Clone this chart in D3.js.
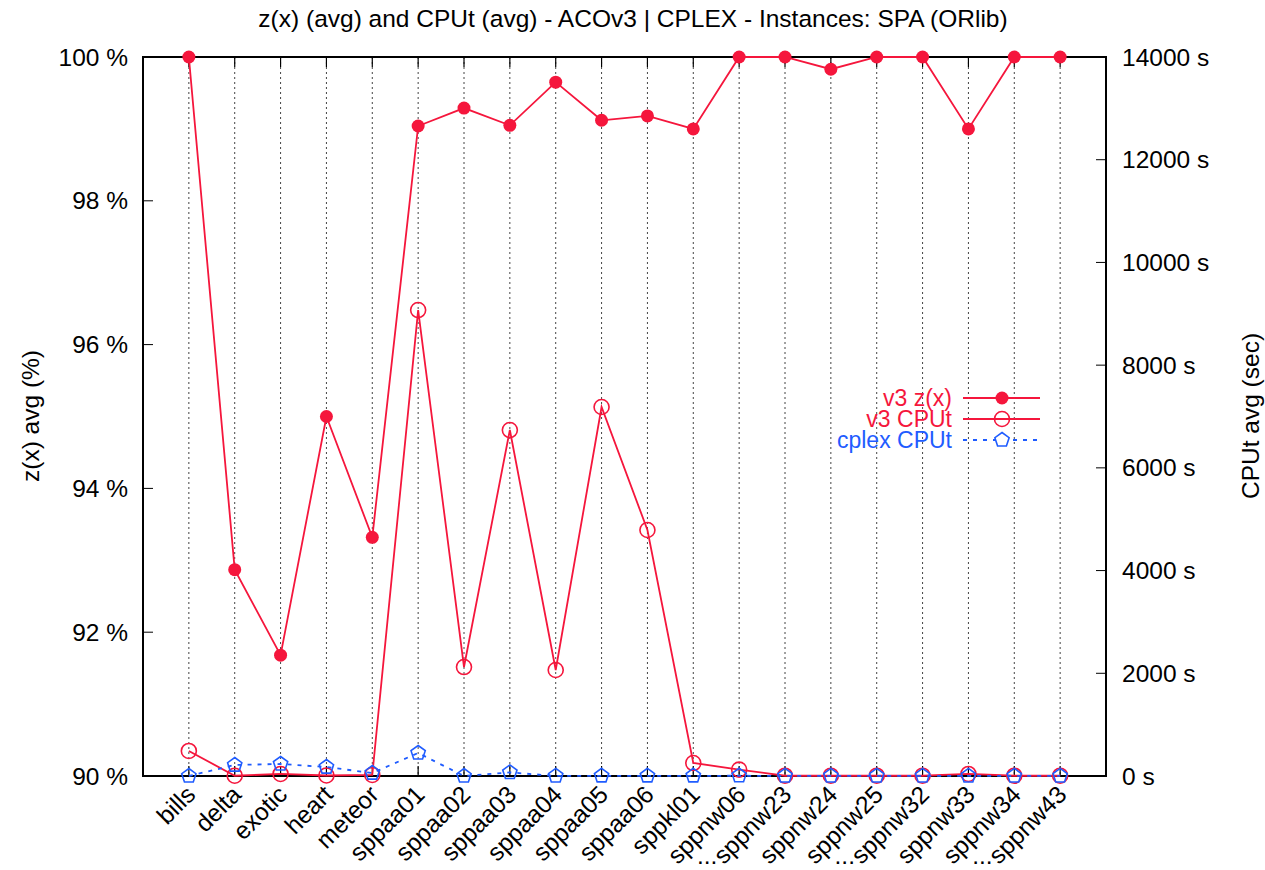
<!DOCTYPE html>
<html><head><meta charset="utf-8">
<script src="https://cdn.jsdelivr.net/npm/d3@7"></script>
<style>
body{margin:0;background:#fff;}
text{font-family:"Liberation Sans",Arial,Helvetica,sans-serif;}
</style></head>
<body><svg id="c" width="1265" height="870"></svg>
<script>
const categories = ["bills","delta","exotic","heart","meteor","sppaa01","sppaa02","sppaa03","sppaa04","sppaa05","sppaa06","sppkl01","sppnw06","sppnw23","sppnw24","sppnw25","sppnw32","sppnw33","sppnw34","sppnw43"];
const ellipsisLabels = ["sppnw23","sppnw32","sppnw43"];
const v3Zx = [100,92.87,91.68,95.0,93.32,99.04,99.29,99.05,99.65,99.12,99.18,99.0,100,100,99.83,100,100,99.0,100,100];
const v3CPUt = [487,5,40,10,20,9073,2122,6737,2064,7185,4790,253,125,5,5,5,5,40,5,5];
const cplexCPUt = [0,214,234,175,58,448,0,70,2,3,3,3,5,2,2,2,2,2,2,2];
const leftTicks = [90,92,94,96,98,100];
const rightTicks = [0,2000,4000,6000,8000,10000,12000,14000];
const title = "z(x) (avg) and CPUt (avg) - ACOv3 | CPLEX - Instances: SPA (ORlib)";
const leftLabel = "z(x) avg (%)";
const rightLabel = "CPUt avg (sec)";
const seriesNames = ["v3 z(x)","v3 CPUt","cplex CPUt"];

const RED = "#f5163c", BLUE = "#1f5cff";
const FS = 24.5, LFS = 23;
const svg = d3.select("#c");
const L = 143, R = 1106, T = 57, B = 776;

const x = d3.scaleLinear().domain([-1, categories.length]).range([L, R]);
const yL = d3.scaleLinear().domain([90, 100]).range([B, T]);
const yR = d3.scaleLinear().domain([0, 14000]).range([B, T]);

// grid
categories.forEach((c, i) => {
  svg.append("line").attr("x1", x(i)).attr("x2", x(i)).attr("y1", T).attr("y2", B)
    .attr("stroke", "#444").attr("stroke-width", 1).attr("stroke-dasharray", "2,3");
  svg.append("line").attr("x1", x(i)).attr("x2", x(i)).attr("y1", B).attr("y2", B - 10)
    .attr("stroke", "#000").attr("stroke-width", 1.2);
  svg.append("line").attr("x1", x(i)).attr("x2", x(i)).attr("y1", T).attr("y2", T + 10)
    .attr("stroke", "#000").attr("stroke-width", 1.2);
});
// y ticks
leftTicks.forEach(v => {
  svg.append("line").attr("x1", L).attr("x2", L + 10).attr("y1", yL(v)).attr("y2", yL(v)).attr("stroke", "#000");
  svg.append("text").attr("x", 128).attr("y", yL(v) + 8.5).attr("text-anchor", "end")
    .attr("font-size", FS).text(v + " %");
});
rightTicks.forEach(v => {
  svg.append("line").attr("x1", R).attr("x2", R - 10).attr("y1", yR(v)).attr("y2", yR(v)).attr("stroke", "#000");
  svg.append("text").attr("x", 1122).attr("y", yR(v) + 8.5).attr("text-anchor", "start")
    .attr("font-size", FS).text(v + " s");
});
// x labels
categories.forEach((c, i) => {
  const tx = x(i) + 8, ty = B + 20;
  svg.append("text").attr("transform", `translate(${tx},${ty}) rotate(-45)`)
    .attr("text-anchor", "end").attr("font-size", FS).text(c);
  if (ellipsisLabels.includes(c)) {
    svg.append("text").attr("x", x(i) - 88).attr("y", 864).attr("font-size", FS).text("...");
  }
});

// frame
svg.append("rect").attr("x", L).attr("y", T).attr("width", R - L).attr("height", B - T)
  .attr("fill", "none").attr("stroke", "#000").attr("stroke-width", 2);

// title and axis titles
svg.append("text").attr("x", 633).attr("y", 27).attr("text-anchor", "middle").attr("font-size", FS).text(title);
svg.append("text").attr("transform", `translate(39,416) rotate(-90)`).attr("text-anchor", "middle").attr("font-size", FS).text(leftLabel);
svg.append("text").attr("transform", `translate(1259,416) rotate(-90)`).attr("text-anchor", "middle").attr("font-size", FS).text(rightLabel);

function pentagon(r) {
  const pts = d3.range(5).map(k => {
    const a = -Math.PI / 2 + k * 2 * Math.PI / 5;
    return [r * Math.cos(a), r * Math.sin(a)];
  });
  return "M" + pts.map(p => p.join(",")).join("L") + "Z";
}

// series 1: v3 z(x)
const line1 = d3.line().x((d, i) => x(i)).y(d => yL(d));
svg.append("path").attr("d", line1(v3Zx)).attr("fill", "none").attr("stroke", RED).attr("stroke-width", 1.8);
v3Zx.forEach((d, i) => svg.append("circle").attr("cx", x(i)).attr("cy", yL(d)).attr("r", 6.5).attr("fill", RED));

// series 2: v3 CPUt
const line2 = d3.line().x((d, i) => x(i)).y(d => yR(d));
svg.append("path").attr("d", line2(v3CPUt)).attr("fill", "none").attr("stroke", RED).attr("stroke-width", 1.8);
v3CPUt.forEach((d, i) => svg.append("circle").attr("cx", x(i)).attr("cy", yR(d)).attr("r", 7.5)
  .attr("fill", "none").attr("stroke", RED).attr("stroke-width", 1.6));

// series 3: cplex CPUt
svg.append("path").attr("d", line2(cplexCPUt)).attr("fill", "none").attr("stroke", BLUE)
  .attr("stroke-width", 1.8).attr("stroke-dasharray", "4,6");
cplexCPUt.forEach((d, i) => svg.append("path").attr("transform", `translate(${x(i)},${yR(d)})`)
  .attr("d", pentagon(7.5)).attr("fill", "none").attr("stroke", BLUE).attr("stroke-width", 1.6));

// legend
const legY = [398, 419, 440];
const legColors = [RED, RED, BLUE];
seriesNames.forEach((n, k) => {
  const y = legY[k];
  svg.append("text").attr("x", 952).attr("y", y + 8).attr("text-anchor", "end")
    .attr("font-size", LFS).attr("fill", legColors[k]).text(n);
  const ln = svg.append("line").attr("x1", 963).attr("x2", 1040).attr("y1", y).attr("y2", y)
    .attr("stroke", legColors[k]).attr("stroke-width", 1.8);
  if (k === 2) ln.attr("stroke-dasharray", "4,6");
  if (k === 0) svg.append("circle").attr("cx", 1002).attr("cy", y).attr("r", 6.5).attr("fill", RED);
  if (k === 1) svg.append("circle").attr("cx", 1002).attr("cy", y).attr("r", 7.5).attr("fill", "none").attr("stroke", RED).attr("stroke-width", 1.6);
  if (k === 2) svg.append("path").attr("transform", `translate(1002,${y})`).attr("d", pentagon(7.5))
    .attr("fill", "#fff").attr("stroke", BLUE).attr("stroke-width", 1.6);
});
</script></body></html>
